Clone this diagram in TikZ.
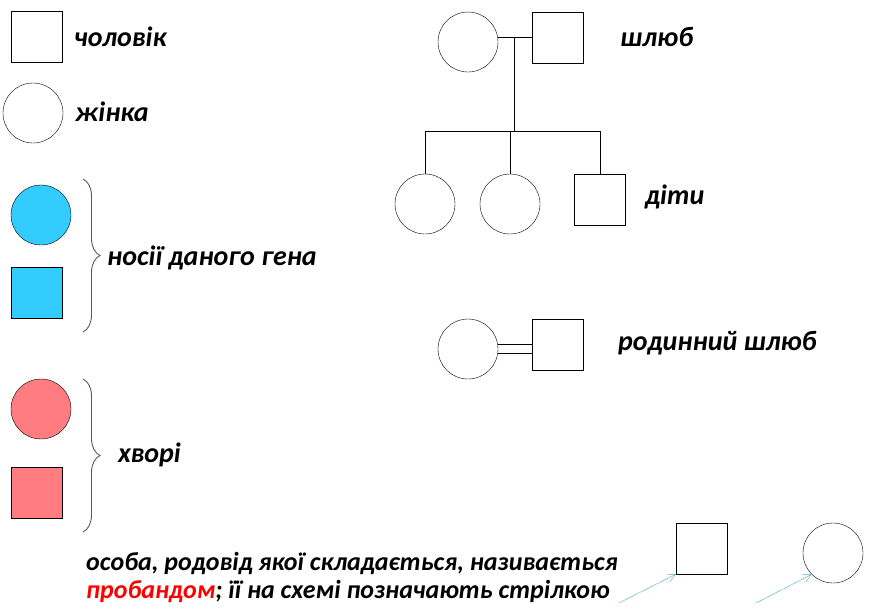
\documentclass[tikz,border=0pt]{standalone}
\usepackage{fontspec}
\setmainfont{Carlito}
\usetikzlibrary{arrows.meta, positioning, decorations.pathreplacing}
\definecolor{carrierblue}{RGB}{51,204,255}
\definecolor{sickred}{RGB}{255,124,128}
\definecolor{probandarrow}{RGB}{75,172,198}

\begin{document}
\begin{tikzpicture}[x=1pt, y=-1pt,
    male/.style={rectangle, draw, minimum size=51pt, inner sep=0pt},
    female/.style={circle, draw, minimum size=60pt, inner sep=0pt},
    label/.style={anchor=west, inner sep=0pt, font=\fontsize{28}{32}\selectfont\bfseries\itshape},
    pointer/.style={-{Straight Barb[length=8pt, width=8pt]}, draw=probandarrow, thin},
    bracket/.style={draw=gray!70!black, line width=0.9pt, decorate, decoration={brace, amplitude=17pt}}
]
\useasboundingbox (0,0) rectangle (873,614);

% legend
\node[male] (man) at (36.5,36.5) {};
\node[label] (manlbl) at (74,37) {чоловік};
\node[female] (woman) at (33,113) {};
\node[label] (womanlbl) at (75,112) {жінка};

\node[female, fill=carrierblue] (carrierf) at (41,215) {};
\node[male, fill=carrierblue] (carrierm) at (36.5,292.5) {};
\coordinate (cbtop) at (83,179);
\coordinate (cbbot) at (83,332);
\draw[bracket] (cbtop) -- (cbbot);
\node[label] (carrierlbl) at (107,258) {носії даного гена};

\node[female, fill=sickred] (sickf) at (41,409) {};
\node[male, fill=sickred] (sickm) at (36.5,492.5) {};
\coordinate (sbtop) at (83,379);
\coordinate (sbbot) at (83,532);
\draw[bracket] (sbtop) -- (sbbot);
\node[label] (sicklbl) at (118,455) {хворі};

% marriage and children
\node[female] (wife) at (468,42) {};
\node[male] (husband) at (557.5,37.5) {};
\node[label] (marriagelbl) at (620,37) {шлюб};
\coordinate (mid) at (514,37);
\draw (wife.east |- mid) -- (husband.west |- mid);

\node[female] (child1) at (425,204) {};
\node[female] (child2) at (510,204) {};
\node[male] (child3) at (600,200) {};
\node[label] (childlbl) at (645,197) {діти};
\coordinate (sibs) at (514,131);
\draw (mid) -- (sibs);
\draw (child1.north |- sibs) -- (child3.north |- sibs);
\draw (child1.north |- sibs) -- (child1.north);
\draw (child2.north |- sibs) -- (child2.north);
\draw (child3.north |- sibs) -- (child3.north);

% consanguineous marriage
\node[female] (cwife) at (468,349) {};
\node[male] (chusband) at (557.5,344.5) {};
\node[label] (consanglbl) at (618,343) {родинний шлюб};
\draw ([yshift=-4.5pt]cwife.east) -- ([yshift=-4.5pt]chusband.west |- cwife.east);
\draw ([yshift=4.5pt]cwife.east) -- ([yshift=4.5pt]chusband.west |- cwife.east);

% proband
\node[label, anchor=base west, align=left, font=\fontsize{26}{28}\selectfont\bfseries\itshape]
    (probandlbl) at (86,598)
    {особа, родовід якої складається, називається\\
     \textcolor{red}{пробандом}; її на схемі позначають стрілкою};
\node[male] (pmale) at (701.5,548.5) {};
\node[female] (pfemale) at (833,553) {};
\coordinate (pmstart) at (619,603);
\coordinate (pfstart) at (756,603);
\draw[pointer] (pmstart) -- (pmale.south west);
\draw[pointer] (pfstart) -- (pfemale.225);
\end{tikzpicture}
\end{document}
